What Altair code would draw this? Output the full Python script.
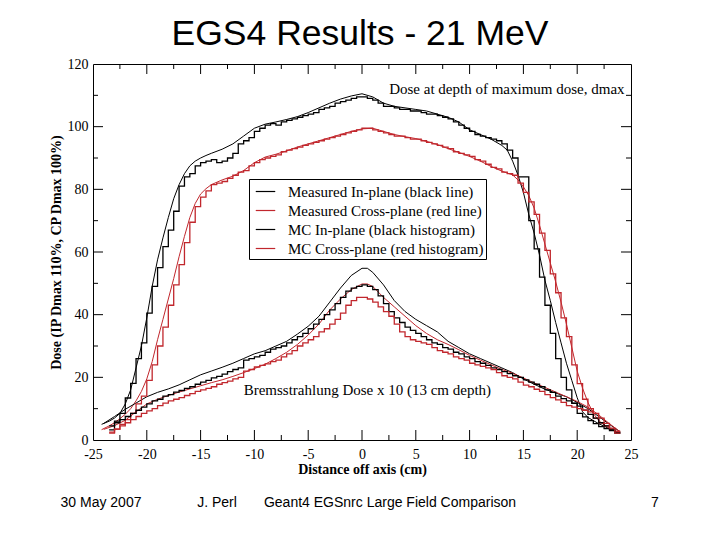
import altair as alt
import pandas as pd

# ---------------- data ----------------
SERIES = [
    "Measured In-plane (black line)",
    "Measured Cross-plane (red line)",
    "MC In-plane (black histogram)",
    "MC Cross-plane (red histogram)",
]

# measured profiles at depth of maximum dose
MEAS_DMAX_X = [-24.2, -23.5, -23.0, -22.5, -22.0, -21.5, -21.0, -20.5, -20.0, -19.5,
               -19.0, -18.5, -18.0, -17.5, -17.0, -16.5, -16.0, -15.5, -15.0, -14.5,
               -14.0, -13.0, -12.0, -11.0, -10.0, -9.0, -8.0, -7.0, -6.0, -5.0,
               -4.0, -3.0, -2.0, -1.0, 0.0, 1.0, 2.0, 3.0, 4.0, 5.0,
               6.0, 7.0, 8.0, 9.0, 10.0, 11.0, 12.0, 13.0, 13.5, 14.0,
               14.5, 15.0, 15.5, 16.0, 16.5, 17.0, 17.5, 18.0, 18.5, 19.0,
               19.5, 20.0, 20.5, 21.0, 21.5, 22.0, 22.5, 23.0, 23.5, 24.0]
MEAS_DMAX_IN = [5.0, 6.0, 7.0, 8.5, 11.5, 16, 23, 30, 39, 49,
                57.5, 64.5, 71, 77, 81.5, 85, 87.5, 89, 90, 90.8,
                91.5, 92.8, 94.5, 97, 99.5, 100.8, 101.5, 102.3, 103.2, 104.5,
                106, 107.5, 108.8, 109.8, 110.5, 109.5, 107.5, 106.5, 106, 105.5,
                105, 104, 103, 101.5, 99, 97.5, 96, 94, 92.5, 89,
                84.5, 79, 72, 66, 59, 51, 44.5, 37.5, 31, 24.5,
                19, 13.5, 9, 7.2, 6.2, 5.2, 4.4, 3.6, 2.8, 2.2]
MEAS_DMAX_CROSS = [3.3, 4.5, 5.5, 6.8, 8.2, 10, 12.5, 15.5, 19.5, 25,
                   32, 38.5, 45, 51.5, 58.5, 65, 71, 75.5, 78.5, 80.2,
                   81.5, 83, 84.2, 86, 88.5, 90.3, 91.2, 92.3, 93.5, 94.5,
                   95.5, 96.5, 97.5, 98.5, 99.3, 99.5, 98.5, 97.5, 96.8, 96.2,
                   95.3, 94.3, 93, 91.8, 90.5, 89, 87.3, 85.8, 85.2, 84.6,
                   83, 80.8, 78, 74, 68.5, 62.5, 56.5, 50.5, 44, 37,
                   29.5, 22, 16.5, 12, 8.5, 6.2, 4.8, 3.7, 2.8, 2.2]

# measured bremsstrahlung profiles (x10, 13 cm depth)
MEAS_BREMS_X = [-24, -23, -22, -21, -20, -19, -18, -17, -16, -15,
                -14, -13, -12, -11, -10, -9, -8, -7, -6, -5,
                -4, -3, -2, -1, 0, 0.5, 1, 2, 3, 4,
                5, 6, 7, 8, 9, 10, 11, 12, 13, 14,
                15, 16, 17, 18, 19, 20, 21, 22, 23, 24]
MEAS_BREMS_IN = [5.3, 7.5, 9.8, 11.8, 13.8, 15.2, 16.3, 17.6, 19.2, 20.8,
                 22, 23.2, 24.5, 26, 27.5, 28.5, 30, 31.5, 33.8, 36.3,
                 39.5, 44, 48.5, 52.5, 54.8, 54.8, 53.5, 49.5, 44.5, 41,
                 38.5, 36.5, 34.5, 31.5, 29.5, 27.5, 26, 24.5, 23, 21.5,
                 19.5, 17.8, 16.2, 15, 13.8, 12, 10, 7.5, 5, 2.6]
MEAS_BREMS_CROSS = [3.4, 4.6, 6.3, 9.0, 11.5, 13, 14.2, 15.3, 16.3, 17.3,
                    18.3, 19.2, 20.3, 21.5, 22.8, 24.2, 26, 28, 30.5, 33.5,
                    37, 41.5, 45, 48, 49.8, 49.8, 49, 45.5, 42.5, 39.5,
                    36.5, 34, 32, 30.5, 28.8, 27, 25.5, 24, 22.5, 21.3,
                    19.8, 18.2, 16.8, 15.3, 13.8, 12.3, 10.5, 8, 5.2, 2.6]

# Monte Carlo histograms: 0.5 cm bins, first bin starts at -23.5 cm
HIST_START = -23.5
HIST_WIDTH = 0.5
MC_DMAX_IN = [3.2, 6.0, 8.5, 13.4, 18.1, 26, 31, 40.5, 49, 55,
              61.7, 67, 73, 81, 84, 85, 87.5, 88.5, 89, 89.5,
              88.5, 89, 90, 91.5, 94.5, 95.5, 96.5, 98.5, 99.5, 100.5,
              101, 100.5, 101.5, 102, 102.5, 103, 103.5, 104, 104.5, 105.5,
              106, 106.5, 107.5, 108, 108.5, 109, 109.5, 109.5, 109, 108.5,
              107.5, 106.5, 106.5, 106, 105.5, 105.5, 105, 105, 104.5, 104,
              104, 103.5, 103, 102.5, 101.5, 100.5, 99.5, 98.5, 97.5, 97,
              96.5, 96, 95.5, 94.5, 92.5, 90, 84, 84, 70, 61,
              52, 43, 34, 26, 20, 16, 11.7, 8.5, 7.4, 6.2,
              5.2, 4.3, 3.6, 3.0, 2.4]
MC_DMAX_CROSS = [2.5, 3.5, 5.0, 6.5, 8.5, 11.5, 14, 19, 24, 30,
                 36, 43, 49.5, 56, 63, 69.5, 74.5, 77.5, 79.5, 81.5,
                 82, 82.5, 83.5, 84.5, 85.5, 86, 87.5, 88.5, 89.5, 90,
                 90.5, 91, 92, 92.5, 93, 93.5, 94, 94.5, 95, 95.5,
                 96, 96.5, 97, 97.5, 98, 98.5, 99, 99.5, 99.5, 99,
                 98.5, 98, 97.5, 97, 97, 96.5, 96, 96, 95.5, 95,
                 94.5, 94, 93.5, 93, 92, 91.5, 91, 90.5, 89.5, 89,
                 88, 87, 86.5, 85.5, 85, 84.5, 82, 79, 76, 72,
                 66, 60.5, 53, 47, 39, 33, 24, 18, 13, 10,
                 7, 5.5, 4.5, 3.5, 2.8]
MC_BREMS_IN = [4.5, 5.5, 6.5, 7.5, 8.5, 9.5, 10.5, 11.5, 12.5, 13,
               14, 14.5, 15.3, 15.8, 16.5, 17, 17.8, 18.5, 19, 19.8,
               20.3, 21, 21.8, 22.5, 23, 25.5, 26, 26.5, 27, 28,
               29, 29.5, 30, 31, 32, 33, 34, 35.5, 37, 38.5,
               40, 41.5, 43.5, 45.5, 47.5, 48.5, 49, 49.5, 49, 48,
               46, 43.5, 41, 39, 37.5, 36, 35, 34, 33, 32,
               31, 30.5, 29.5, 29, 28, 27.5, 26.5, 26, 25, 24.5,
               23.8, 23, 22.5, 21.8, 21.2, 20.5, 20, 19.2, 18.5, 17.8,
               17, 16, 15.2, 14, 13.2, 12.5, 11.8, 10.8, 9.5, 8.2,
               7, 5.5, 4.5, 3.5, 2.2]
MC_BREMS_CROSS = [2.2, 3.5, 4.5, 5.5, 6.5, 7.5, 8.5, 9.3, 10, 11,
                  11.8, 12.5, 13, 13.5, 14.2, 14.8, 15.5, 16, 16.5, 17,
                  17.8, 18.3, 18.8, 19.5, 20, 22, 22.5, 23.3, 23.8, 24.3,
                  25, 25.5, 26.5, 27.5, 28.5, 30, 31, 32, 33, 34.5,
                  35.5, 37, 38.5, 40.5, 43, 44.5, 45.5, 45.5, 45, 44,
                  42.5, 41, 39.5, 37, 34.5, 33, 32, 31.5, 31, 30.5,
                  29.5, 28.5, 28, 27.5, 26.5, 26, 25.5, 24.5, 24, 23.5,
                  23, 22.5, 21.5, 20.5, 20, 19.5, 18.5, 17.5, 17, 16.2,
                  15.5, 14.5, 13.5, 12.8, 12, 11, 10.5, 10, 9.5, 9,
                  8.5, 7, 5.3, 3.8, 2.2]

X_LABELS = [-25, -20, -15, -10, -5, 0, 5, 10, 15, 20, 25]
Y_LABELS = [0, 20, 40, 60, 80, 100, 120]
X_MAJOR = [-20, -15, -10, -5, 0, 5, 10, 15, 20]
X_MINOR = [-22.5, -17.5, -12.5, -7.5, -2.5, 2.5, 7.5, 12.5, 17.5, 22.5]
Y_MAJOR = [20, 40, 60, 80, 100]
Y_MINOR = [10, 30, 50, 70, 90, 110]

ANNOT_TOP = ["Dose at depth of maximum dose, dmax"]
ANNOT_TOP_X = [24.4]
ANNOT_TOP_Y = [112.0]
ANNOT_BREMS = ["Bremsstrahlung Dose x 10 (13 cm depth)"]
ANNOT_BREMS_X = [-11.0]
ANNOT_BREMS_Y = [16.0]

TITLE = "EGS4 Results - 21 MeV"
FOOTER = ["30 May 2007", "J. Perl", "Geant4 EGSnrc Large Field Comparison", "7"]

# ---------------- styling ----------------
BLACK = "#000000"
RED = "#c1272d"
SERIF = "Liberation Serif"
SANS = "Liberation Sans"
W, H = 538, 376

# ---------------- tables ----------------
line_rows = []
for xs, ys, s, reg in [
    (MEAS_DMAX_X, MEAS_DMAX_IN, SERIES[0], "dmax"),
    (MEAS_DMAX_X, MEAS_DMAX_CROSS, SERIES[1], "dmax"),
    (MEAS_BREMS_X, MEAS_BREMS_IN, SERIES[0], "brems"),
    (MEAS_BREMS_X, MEAS_BREMS_CROSS, SERIES[1], "brems"),
]:
    for x, y in zip(xs, ys):
        line_rows.append({"x": x, "y": y, "series": s, "region": reg})
lines_df = pd.DataFrame(line_rows)

hist_rows = []
for vals, s, reg in [
    (MC_DMAX_IN, SERIES[2], "dmax"),
    (MC_DMAX_CROSS, SERIES[3], "dmax"),
    (MC_BREMS_IN, SERIES[2], "brems"),
    (MC_BREMS_CROSS, SERIES[3], "brems"),
]:
    for i, v in enumerate(vals):
        hist_rows.append({"x": HIST_START + HIST_WIDTH * i, "y": v, "series": s, "region": reg})
    # closing edge of the last bin
    hist_rows.append({"x": HIST_START + HIST_WIDTH * len(vals), "y": vals[-1], "series": s, "region": reg})
hist_df = pd.DataFrame(hist_rows)

xscale = alt.Scale(domain=[-25, 25], nice=False, zero=False)
yscale = alt.Scale(domain=[0, 120], nice=False, zero=False)

x_axis = alt.Axis(
    values=X_LABELS, ticks=False, domain=False, grid=False,
    labelExpr="'' + datum.value", labelFlush=False, labelOverlap=False,
    labelFont=SERIF, labelFontSize=14, labelColor="black", labelPadding=7,
    title="Distance off axis (cm)", titleFont=SERIF, titleFontSize=14,
    titleFontWeight="bold", titleColor="black", titlePadding=1,
)
y_axis = alt.Axis(
    values=Y_LABELS, ticks=False, domain=False, grid=False,
    labelFlush=False, labelOverlap=False,
    labelFont=SERIF, labelFontSize=14, labelColor="black", labelPadding=5,
    title="Dose (IP Dmax 110%, CP Dmax 100%)", titleFont=SERIF, titleFontSize=14,
    titleFontWeight="bold", titleColor="black", titlePadding=4,
)

X = alt.X("x:Q", scale=xscale, axis=x_axis)
Y = alt.Y("y:Q", scale=yscale, axis=y_axis)

color = alt.Color(
    "series:N",
    scale=alt.Scale(domain=SERIES, range=[BLACK, RED, BLACK, RED]),
    legend=alt.Legend(
        title=None, orient="none", legendX=156, legendY=115, direction="vertical",
        strokeColor="black", fillColor="white", padding=2,
        symbolType="stroke", symbolSize=380, symbolStrokeWidth=1.2, symbolOffset=4,
        labelFont=SERIF, labelFontSize=15, labelColor="black", labelOffset=12,
        labelLimit=400, rowPadding=0,
    ),
)

measured = alt.Chart(lines_df).mark_line(strokeWidth=1).encode(
    x=X, y=Y, color=color, detail="region:N",
)

mc = alt.Chart(hist_df).mark_line(strokeWidth=1.3, interpolate="step-after").encode(
    x=X, y=Y, color=color, detail="region:N",
)


def xticks(vals, length):
    df = pd.DataFrame({"x": vals})
    base = alt.Chart(df).mark_rule(color="black", strokeWidth=1)
    bottom = base.encode(x=X, y=alt.value(H), y2=alt.value(H - length))
    top = base.encode(x=X, y=alt.value(0), y2=alt.value(length))
    return [bottom, top]


def yticks(vals, length):
    df = pd.DataFrame({"y": vals})
    base = alt.Chart(df).mark_rule(color="black", strokeWidth=1)
    left = base.encode(y=Y, x=alt.value(0), x2=alt.value(length))
    right = base.encode(y=Y, x=alt.value(W), x2=alt.value(W - length))
    return [left, right]


tick_layers = xticks(X_MAJOR, 10) + xticks(X_MINOR, 5) + yticks(Y_MAJOR, 10) + yticks(Y_MINOR, 5)

annot_top = alt.Chart(pd.DataFrame({"x": ANNOT_TOP_X, "y": ANNOT_TOP_Y, "t": ANNOT_TOP})).mark_text(
    align="right", baseline="middle", font=SERIF, fontSize=15, color="black"
).encode(x=X, y=Y, text="t:N")

annot_brems = alt.Chart(pd.DataFrame({"x": ANNOT_BREMS_X, "y": ANNOT_BREMS_Y, "t": ANNOT_BREMS})).mark_text(
    align="left", baseline="middle", font=SERIF, fontSize=15, color="black"
).encode(x=X, y=Y, text="t:N")

title = alt.Chart(pd.DataFrame({"t": [TITLE]})).mark_text(
    align="center", baseline="alphabetic", font=SANS, fontSize=35.5, color="black"
).encode(text="t:N", x=alt.value(267), y=alt.value(-19))

footer_pos = [8, 124, 297, 562]
footer_layers = []
for txt, px in zip(FOOTER, footer_pos):
    footer_layers.append(
        alt.Chart(pd.DataFrame({"t": [txt]})).mark_text(
            align="center", baseline="middle", font=SANS, fontSize=14, color="black"
        ).encode(text="t:N", x=alt.value(px), y=alt.value(439))
    )

chart = alt.layer(
    measured, mc, *tick_layers, annot_top, annot_brems, title, *footer_layers
).properties(
    width=W, height=H,
    padding={"left": 85, "top": 56, "right": 81, "bottom": 92},
    autosize=alt.AutoSizeParams(type="none"),
    background="white",
).configure_view(stroke="black", strokeWidth=1)

chart.save("out.html", embed_options={"renderer": "svg", "actions": False})
